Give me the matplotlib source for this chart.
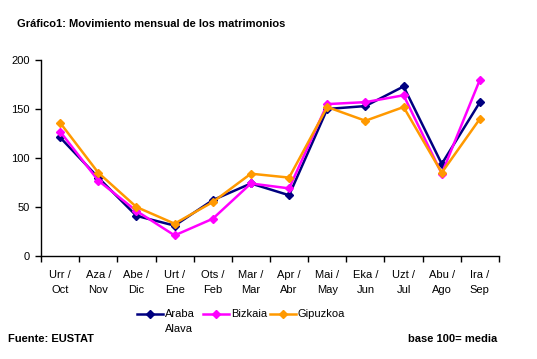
import matplotlib
matplotlib.use("Agg")
import matplotlib.pyplot as plt
from matplotlib.lines import Line2D
import numpy as np

plt.rcParams['font.family'] = ['Liberation Sans', 'DejaVu Sans']

categories = ["Urr /\nOct", "Aza /\nNov", "Abe /\nDic", "Urt /\nEne", "Ots /\nFeb", "Mar /\nMar",
              "Apr /\nAbr", "Mai /\nMay", "Eka /\nJun", "Uzt /\nJul", "Abu /\nAgo", "Ira /\nSep"]
araba = [121, 80, 41, 31, 57, 74, 62, 150, 153, 173, 94, 157]
bizkaia = [127, 77, 46, 21, 38, 74, 69, 155, 157, 164, 84, 180]
gipuzkoa = [136, 85, 50, 33, 55, 84, 80, 152, 138, 152, 85, 140]
series_names = ["Araba\nAlava", "Bizkaia", "Gipuzkoa"]
colors = ["#000080", "#FF00FF", "#FF9900"]
yticks = [0, 50, 100, 150, 200]

W, H = 537, 359
fig = plt.figure(figsize=(W/100, H/100), dpi=100)
ax = fig.add_axes([41/W, 1-256/H, 458/W, 196/H])

x = np.arange(len(categories))
for vals, name, c in zip([araba, bizkaia, gipuzkoa], series_names, colors):
    ax.plot(x, vals, color=c, lw=1.8, marker='D', ms=4.5, mec=c, mfc=c, label=name)

ax.set_xlim(-0.5, len(categories)-0.5)
ax.set_ylim(0, 200)
ax.set_yticks(yticks)
ax.set_yticklabels([str(v) for v in yticks], fontsize=8)
ax.set_xticks(np.arange(-0.5, len(categories), 1.0))
ax.set_xticklabels([])
ax.set_xticks(x, minor=True)
ax.set_xticklabels(categories, minor=True, fontsize=8, linespacing=1.65)
ax.tick_params(axis='x', which='major', direction='out', length=4, width=1)
ax.tick_params(axis='x', which='minor', length=0, pad=10)
ax.tick_params(axis='y', direction='out', length=4, width=1, pad=4)
for s in ['top', 'right']:
    ax.spines[s].set_visible(False)
for s in ['left', 'bottom']:
    ax.spines[s].set_linewidth(1)
    ax.spines[s].set_color('black')

fig.text(17/W, 1-24/H, "Gráfico1: Movimiento mensual de los matrimonios", fontsize=8,
         fontweight='bold', va='center', ha='left')
fig.text(8/W, 1-339/H, "Fuente: EUSTAT", fontsize=8, fontweight='bold', va='center', ha='left')
fig.text(497/W, 1-339/H, "base 100= media", fontsize=8, fontweight='bold', va='center', ha='right')

# legend, drawn by hand to mimic the layout
leg_y = 1-314/H
leg_x0 = [137, 203, 270]
for x0, name, c in zip(leg_x0, series_names, colors):
    xa, xb = x0/W, (x0+26)/W
    fig.add_artist(Line2D([xa, xb], [leg_y, leg_y], transform=fig.transFigure, color=c, lw=1.8))
    fig.add_artist(Line2D([(xa+xb)/2], [leg_y], transform=fig.transFigure, color=c,
                          marker='D', ms=4, mec=c, mfc=c, lw=0))
    fig.text((x0+28)/W, leg_y, name, fontsize=8, ha='left', va='top', linespacing=1.6,
             transform=fig.transFigure).set_y(leg_y + 5/H)

fig.savefig("out.png", dpi=100)
